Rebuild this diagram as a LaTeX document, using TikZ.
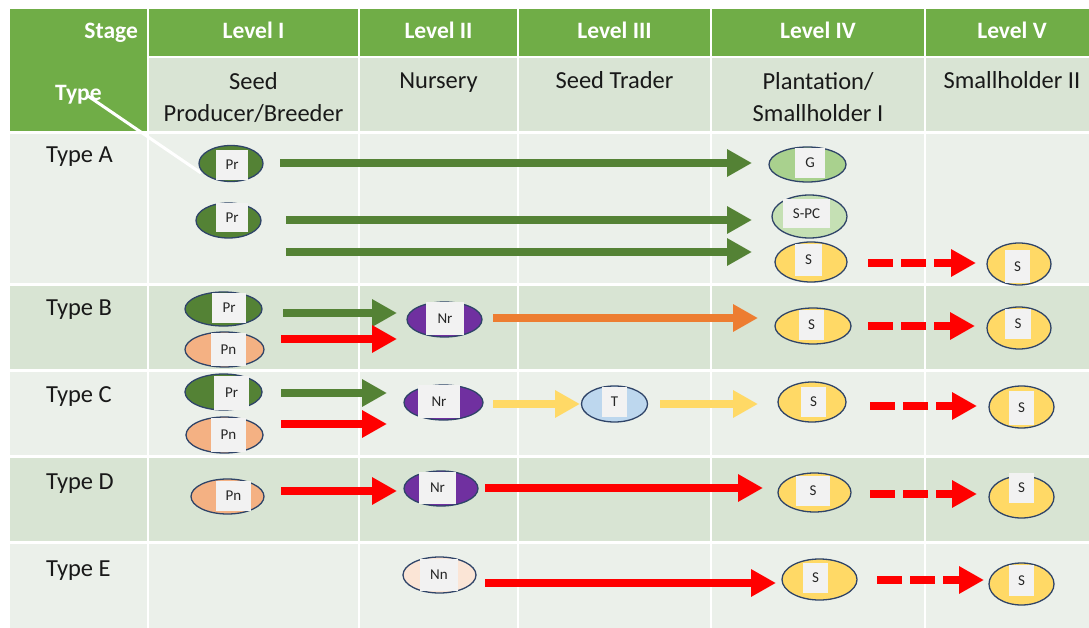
\documentclass[tikz,border=0pt]{standalone}
\usepackage{fontspec}
\setmainfont{Carlito}
\usetikzlibrary{shapes.geometric,arrows.meta}

\definecolor{hdr}{HTML}{70AD47}
\definecolor{subrow}{HTML}{D9E4D4}
\definecolor{rowl}{HTML}{EBF0EA}
\definecolor{rowd}{HTML}{D8E4D3}
\definecolor{edge}{HTML}{2F4468}
\definecolor{tagbg}{HTML}{F2F2F2}
\definecolor{prfill}{HTML}{548235}
\definecolor{pnfill}{HTML}{F4B183}
\definecolor{nrfill}{HTML}{7030A0}
\definecolor{gfill}{HTML}{A9D18E}
\definecolor{spcfill}{HTML}{C5E0B4}
\definecolor{sfill}{HTML}{FFD966}
\definecolor{tfill}{HTML}{BDD7EE}
\definecolor{nnfill}{HTML}{FBE5D6}
\definecolor{agreen}{HTML}{548235}
\definecolor{ared}{HTML}{FF0000}
\definecolor{aorange}{HTML}{ED7D31}
\definecolor{ayellow}{HTML}{FFD966}

\newcommand\hdfont{\fontsize{23.5}{27}\selectfont\bfseries}
\newcommand\bodyfont{\fontsize{24.5}{32}\selectfont}
\newcommand\tagfont{\fontsize{15}{17}\selectfont}

\begin{document}
\begin{tikzpicture}[x=1pt,y=-1pt,
  hdtext/.style={text=white,font=\hdfont,inner sep=0pt,anchor=base},
  subtext/.style={text=black!90,font=\bodyfont,inner sep=0pt,align=center},
  typetext/.style={text=black!90,font=\bodyfont,inner sep=0pt,anchor=base west},
  seed/.style={ellipse,draw=edge,line width=1.3pt,inner sep=0pt,outer sep=0pt},
  tag/.style={fill=tagbg,inner sep=0pt,outer sep=0pt,font=\tagfont,text=black!85},
  flow/.style={line width=8.5pt,-{Triangle[length=25pt,width=26pt]}},
  dashflow/.style={flow,dash pattern=on 25pt off 8pt},
  sepline/.style={white,line width=2pt},
  diagline/.style={white,line width=3pt}]

\useasboundingbox (0,0) rectangle (1089,628);
\fill[white] (0,0) rectangle (1089,628);

% table body
\fill[hdr] (10,9) rectangle (1089,56);
\fill[hdr] (10,9) rectangle (147,131);
\fill[subrow] (149,58) rectangle (1089,131);
\fill[rowl] (10,134) rectangle (1089,283);
\fill[rowd] (10,286) rectangle (1089,369);
\fill[rowl] (10,372) rectangle (1089,455);
\fill[rowd] (10,458) rectangle (1089,541);
\fill[rowl] (10,544) rectangle (1089,628);
\foreach \x in {148,359,518,711,925} \draw[sepline] (\x,9) -- (\x,628);

% header texts
\node[hdtext,anchor=base east] (hstage) at (138,38.5) {Stage};
\node[hdtext] (h1) at (253.5,38.5) {Level I};
\node[hdtext] (h2) at (438.5,38.5) {Level II};
\node[hdtext] (h3) at (614.5,38.5) {Level III};
\node[hdtext] (h4) at (818,38.5) {Level IV};
\node[hdtext] (h5) at (1012,38.5) {Level V};
\node[hdtext,anchor=base west] (htype) at (55,101) {Type};

\node[subtext] (s1) at (253.5,97.5) {Seed\\Producer/Breeder};
\node[subtext,anchor=base] (s2) at (438.5,89) {Nursery};
\node[subtext,anchor=base] (s3) at (614.5,89) {Seed Trader};
\node[subtext] (s4) at (818,97.5) {Plantation/\\Smallholder I};
\node[subtext,anchor=base] (s5) at (1012,89) {Smallholder II};

\node[typetext] (ta) at (46,163) {Type A};
\node[typetext] (tb) at (46,315) {Type B};
\node[typetext] (tc) at (46,402) {Type C};
\node[typetext] (td) at (46,489) {Type D};
\node[typetext] (te) at (46,576) {Type E};

\draw[diagline] (88,96) -- (201,173);

% Type A
\node[seed,fill=prfill,minimum width=64pt,minimum height=36pt] (pr1) at (231,163.5) {};
\node[tag,minimum width=32pt,minimum height=30pt] (pr1t) at (232,165) {Pr};
\node[seed,fill=prfill,minimum width=65pt,minimum height=35pt] (pr2) at (228.5,220.5) {};
\node[tag,minimum width=32pt,minimum height=29pt] (pr2t) at (232,217.5) {Pr};
\node[seed,fill=gfill,minimum width=77pt,minimum height=35pt] (g) at (807.5,164.5) {};
\node[tag,minimum width=30pt,minimum height=30pt] (gt) at (810,163) {G};
\node[seed,fill=spcfill,minimum width=75pt,minimum height=43pt] (spc) at (809.5,216.5) {};
\node[tag,minimum width=47pt,minimum height=29pt] (spct) at (806.5,213.5) {S-PC};
\node[seed,fill=sfill,minimum width=72pt,minimum height=40pt] (sa) at (811,262) {};
\node[tag,minimum width=27pt,minimum height=32pt] (sat) at (808.5,260) {S};
\node[seed,fill=sfill,minimum width=64pt,minimum height=42pt] (sa5) at (1019,264) {};
\node[tag,minimum width=25pt,minimum height=33pt] (sa5t) at (1017.5,266.5) {S};

% Type B
\node[seed,fill=prfill,minimum width=77pt,minimum height=34pt] (prb) at (223.5,309) {};
\node[tag,minimum width=34pt,minimum height=30pt] (prbt) at (229,308) {Pr};
\node[seed,fill=pnfill,minimum width=79pt,minimum height=35pt] (pnb) at (224.5,349.5) {};
\node[tag,minimum width=35pt,minimum height=33pt] (pnbt) at (228.5,349.5) {Pn};
\node[seed,fill=nrfill,minimum width=75pt,minimum height=35pt] (nrb) at (444.5,319.5) {};
\node[tag,minimum width=38pt,minimum height=33pt] (nrbt) at (445,318.5) {Nr};
\node[seed,fill=sfill,minimum width=76pt,minimum height=36pt] (sb) at (813,326) {};
\node[tag,minimum width=25pt,minimum height=30pt] (sbt) at (811.5,325) {S};
\node[seed,fill=sfill,minimum width=64pt,minimum height=42pt] (sb5) at (1019,328) {};
\node[tag,minimum width=26pt,minimum height=30pt] (sb5t) at (1018,324) {S};

% Type C
\node[seed,fill=prfill,minimum width=77pt,minimum height=36pt] (prc) at (223.5,392) {};
\node[tag,minimum width=35pt,minimum height=34pt] (prct) at (231.5,393) {Pr};
\node[seed,fill=pnfill,minimum width=77pt,minimum height=36pt] (pnc) at (224.5,435) {};
\node[tag,minimum width=35pt,minimum height=34pt] (pnct) at (228.5,435) {Pn};
\node[seed,fill=nrfill,minimum width=79pt,minimum height=35pt] (nrc) at (443.5,402.5) {};
\node[tag,minimum width=42pt,minimum height=33pt] (nrct) at (439,401.5) {Nr};
\node[seed,fill=tfill,minimum width=66pt,minimum height=36pt] (t) at (614.5,404) {};
\node[tag,minimum width=25pt,minimum height=30pt] (tt) at (614.5,402) {T};
\node[seed,fill=sfill,minimum width=68pt,minimum height=40pt] (sc) at (812,402) {};
\node[tag,minimum width=25pt,minimum height=30pt] (sct) at (813.5,402) {S};
\node[seed,fill=sfill,minimum width=65pt,minimum height=42pt] (sc5) at (1021.5,407) {};
\node[tag,minimum width=25pt,minimum height=34pt] (sc5t) at (1021.5,408) {S};

% Type D
\node[seed,fill=pnfill,minimum width=73pt,minimum height=35pt] (pnd) at (227.5,496.5) {};
\node[tag,minimum width=35pt,minimum height=30pt] (pndt) at (233.5,496) {Pn};
\node[seed,fill=nrfill,minimum width=74pt,minimum height=35pt] (nrd) at (441,488.5) {};
\node[tag,minimum width=37pt,minimum height=32pt] (nrdt) at (437.5,488) {Nr};
\node[seed,fill=sfill,minimum width=73pt,minimum height=39pt] (sd) at (814.5,492.5) {};
\node[tag,minimum width=34pt,minimum height=30pt] (sdt) at (813,491) {S};
\node[seed,fill=sfill,minimum width=65pt,minimum height=42pt] (sd5) at (1021.5,497) {};
\node[tag,minimum width=25pt,minimum height=30pt] (sd5t) at (1021.5,488) {S};

% Type E
\node[seed,fill=nnfill,minimum width=73pt,minimum height=36pt] (nn) at (439.5,575) {};
\node[tag,minimum width=38pt,minimum height=32pt] (nnt) at (439,575) {Nn};
\node[seed,fill=sfill,minimum width=75pt,minimum height=41pt] (se) at (819.5,579.5) {};
\node[tag,minimum width=25pt,minimum height=30pt] (set) at (815.5,578) {S};
\node[seed,fill=sfill,minimum width=65pt,minimum height=42pt] (se5) at (1021.5,584) {};
\node[tag,minimum width=25pt,minimum height=31pt] (se5t) at (1021.5,580.5) {S};

% flows, Type A
\draw[flow,agreen] ([shift={(17,-0.5)}]pr1.east) -- ([shift={(-17,-1.5)}]g.west);
\draw[flow,agreen] ([shift={(25,-0.5)}]pr2.east) -- ([shift={(-20,3.5)}]spc.west);
\draw[flow,agreen] ([shift={(25,31.5)}]pr2.east) -- ([shift={(-23,-10)}]sa.west);
\draw[dashflow,ared] ([shift={(21,1)}]sa.east) -- ([shift={(-11,-1)}]sa5.west);

% flows, Type B
\draw[flow,agreen] ([shift={(21,4)}]prb.east) -- ([shift={(-10,-6.5)}]nrb.west);
\draw[flow,ared] ([shift={(17,-10.5)}]pnb.east) -- ([shift={(-10,19.5)}]nrb.west);
\draw[flow,aorange] ([shift={(11,-1.5)}]nrb.east) -- ([shift={(-17,-8)}]sb.west);
\draw[dashflow,ared] ([shift={(17,0)}]sb.east) -- ([shift={(-12,-2)}]sb5.west);

% flows, Type C
\draw[flow,agreen] ([shift={(19,1)}]prc.east) -- ([shift={(-17,-9.5)}]nrc.west);
\draw[flow,ared] ([shift={(18,-11)}]pnc.east) -- ([shift={(-17,21.5)}]nrc.west);
\draw[flow,ayellow] ([shift={(10,1.5)}]nrc.east) -- ([shift={(-1.5,0)}]t.west);
\draw[flow,ayellow] ([shift={(12.5,0)}]t.east) -- ([shift={(-20,2)}]sc.west);
\draw[dashflow,ared] ([shift={(24,4)}]sc.east) -- ([shift={(-12,-1)}]sc5.west);

% flows, Type D
\draw[flow,ared] ([shift={(17,-5.5)}]pnd.east) -- ([shift={(-7,2.5)}]nrd.west);
\draw[flow,ared] ([shift={(7,-0.5)}]nrd.east) -- ([shift={(-15,-4.5)}]sd.west);
\draw[dashflow,ared] ([shift={(19,1.5)}]sd.east) -- ([shift={(-12,-3)}]sd5.west);

% flows, Type E
\draw[flow,ared] ([shift={(9,8)}]nn.east) -- ([shift={(-6,3.5)}]se.west);
\draw[dashflow,ared] ([shift={(20,0.5)}]se.east) -- ([shift={(-5,-4)}]se5.west);

\end{tikzpicture}
\end{document}
